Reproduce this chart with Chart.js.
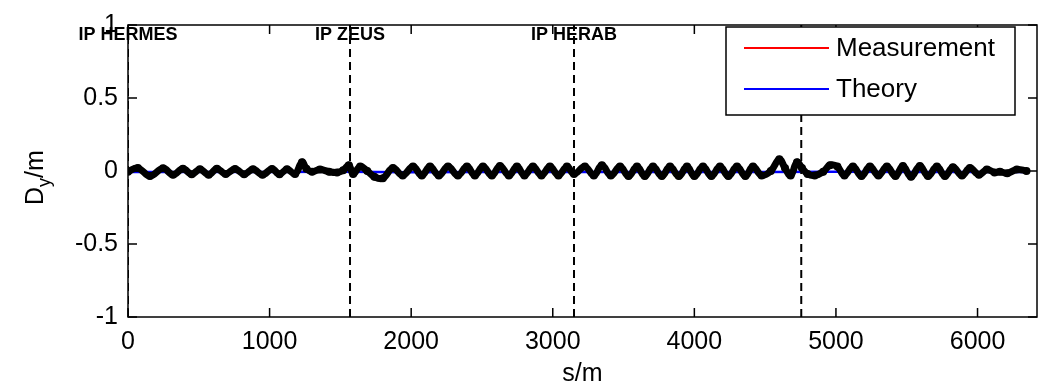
<!DOCTYPE html>
<html>
<head>
<meta charset="utf-8">
<script src="https://cdn.jsdelivr.net/npm/chart.js@4.4.0/dist/chart.umd.min.js"></script>
<style>
  body { margin: 0; background: #fff; }
  #wrap { width: 1046px; height: 389px; position: relative; }
</style>
</head>
<body>
<div id="wrap"><canvas id="dispersion"></canvas></div>
<script>
// position along the ring (m) and measured vertical dispersion (m)
const sPos = [0, 70, 155, 247, 318, 388, 450, 508, 570, 628, 690, 756, 820, 883, 950, 1017, 1070, 1123, 1180, 1229, 1260, 1300, 1356, 1420, 1476, 1520, 1560, 1590, 1640, 1690, 1740, 1800, 1871, 1940, 2013, 2075, 2133, 2195, 2260, 2330, 2394, 2450, 2507, 2570, 2627, 2690, 2747, 2800, 2860, 2920, 2980, 3040, 3100, 3150, 3227, 3290, 3347, 3410, 3475, 3535, 3595, 3650, 3708, 3770, 3828, 3890, 3948, 4000, 4061, 4120, 4181, 4240, 4301, 4360, 4414, 4475, 4540, 4600, 4640, 4680, 4725, 4760, 4800, 4850, 4910, 4958, 5010, 5060, 5120, 5180, 5240, 5300, 5360, 5420, 5473, 5530, 5593, 5650, 5713, 5770, 5826, 5890, 5946, 6010, 6066, 6120, 6158, 6210, 6278, 6346];
const measured = [-0.005, 0.02, -0.035, 0.018, -0.025, 0.015, -0.022, 0.012, -0.025, 0.015, -0.02, 0.014, -0.022, 0.012, -0.025, 0.013, -0.022, 0.012, -0.02, 0.06, 0.015, -0.005, 0.01, -0.005, -0.01, 0.005, 0.04, -0.02, 0.03, 0.0, -0.04, -0.05, 0.02, -0.03, 0.03, -0.03, 0.03, -0.03, 0.03, -0.03, 0.03, -0.03, 0.03, -0.03, 0.035, -0.03, 0.03, -0.03, 0.03, -0.03, 0.03, -0.03, 0.03, -0.02, 0.03, -0.03, 0.04, -0.03, 0.03, -0.035, 0.03, -0.035, 0.03, -0.035, 0.03, -0.035, 0.03, -0.035, 0.03, -0.035, 0.03, -0.035, 0.03, -0.035, 0.03, -0.03, 0.0, 0.08, 0.02, -0.03, 0.06, 0.02, -0.02, -0.03, -0.005, 0.04, 0.03, -0.03, 0.03, -0.035, 0.03, -0.03, 0.03, -0.035, 0.035, -0.04, 0.035, -0.035, 0.03, -0.035, 0.025, -0.03, 0.02, -0.025, 0.01, -0.01, -0.005, -0.015, 0.01, 0.0];

// model curve
const theoryS = [0, 500, 1000, 1500, 2000, 2500, 3000, 3500, 4000, 4500, 5000, 5500, 6000, 6346];
const theoryVal = [-0.006, -0.007, -0.006, -0.005, -0.008, -0.007, -0.006, -0.007, -0.006, -0.006, -0.005, -0.007, -0.006, -0.006];

// interaction points
const ipPos = [0, 1568, 3150, 4755];
const ipNames = ['IP HERMES', 'IP ZEUS', 'IP HERAB', ''];

const xTicks = [0, 1000, 2000, 3000, 4000, 5000, 6000];
const yTicks = [-1, -0.5, 0, 0.5, 1];
const seriesNames = ['Measurement', 'Theory'];

const FONT = "'Liberation Sans', Arial, sans-serif";

const frame = {
    id: 'frame',
    afterDraw(chart) {
        const ctx = chart.ctx;
        const a = chart.chartArea;
        const x = chart.scales.x, y = chart.scales.y;
        ctx.save();
        ctx.strokeStyle = '#000';
        ctx.lineWidth = 1.5;
        ctx.strokeRect(a.left, a.top, a.right - a.left, a.bottom - a.top);
        // inward ticks on all four sides
        ctx.beginPath();
        xTicks.forEach(v => {
            const px = x.getPixelForValue(v);
            ctx.moveTo(px, a.bottom); ctx.lineTo(px, a.bottom - 9);
            ctx.moveTo(px, a.top); ctx.lineTo(px, a.top + 9);
        });
        yTicks.forEach(v => {
            const py = y.getPixelForValue(v);
            ctx.moveTo(a.left, py); ctx.lineTo(a.left + 9, py);
            ctx.moveTo(a.right, py); ctx.lineTo(a.right - 9, py);
        });
        ctx.stroke();

        // IP names
        ctx.fillStyle = '#000';
        ctx.font = 'bold 18px ' + FONT;
        ctx.textAlign = 'center';
        ctx.textBaseline = 'middle';
        ipPos.forEach((p, i) => {
            if (ipNames[i]) ctx.fillText(ipNames[i], x.getPixelForValue(p), 35);
        });

        // legend
        const lx = 726, ly = 27, lw = 289, lh = 88;
        ctx.fillStyle = '#fff';
        ctx.fillRect(lx, ly, lw, lh);
        ctx.strokeStyle = '#000';
        ctx.lineWidth = 1.5;
        ctx.strokeRect(lx, ly, lw, lh);
        const legendColors = ['#ff0000', '#0000ff'];
        ctx.font = '26px ' + FONT;
        ctx.textAlign = 'left';
        seriesNames.forEach((name, i) => {
            const yy = 48 + i * 41;
            ctx.strokeStyle = legendColors[i];
            ctx.lineWidth = 2;
            ctx.beginPath(); ctx.moveTo(744, yy); ctx.lineTo(829, yy); ctx.stroke();
            ctx.fillStyle = '#000';
            ctx.fillText(name, 836, yy + 1);
        });

        // y axis title with subscript
        ctx.translate(43, 205);
        ctx.rotate(-Math.PI / 2);
        ctx.textBaseline = 'alphabetic';
        ctx.textAlign = 'left';
        ctx.font = '25px ' + FONT;
        ctx.fillText('D', 0, 0);
        let w = ctx.measureText('D').width;
        ctx.font = '18px ' + FONT;
        ctx.fillText('y', w, 7);
        w += ctx.measureText('y').width;
        ctx.font = '25px ' + FONT;
        ctx.fillText('/m', w, 0);
        ctx.restore();
    }
};

const ctx = document.getElementById('dispersion').getContext('2d');

const datasets = [];
ipPos.forEach(p => {
    datasets.push({
        data: [{x: p, y: -1}, {x: p, y: 1}],
        borderColor: '#000',
        borderWidth: 2,
        borderDash: [8, 5],
        pointRadius: 0,
        order: 0
    });
});
datasets.push({
    label: 'bpm',
    data: sPos.map((s, i) => ({x: s, y: measured[i]})),
    borderColor: '#000',
    backgroundColor: '#000',
    borderWidth: 7,
    tension: 0.4,
    pointRadius: 4,
    pointBorderWidth: 0,
    pointBackgroundColor: '#000',
    order: 1
});
datasets.push({
    label: seriesNames[0],
    data: sPos.map((s, i) => ({x: s, y: measured[i]})),
    borderColor: '#ff0000',
    borderWidth: 1.5,
    pointRadius: 0,
    tension: 0,
    order: 2
});
datasets.push({
    label: seriesNames[1],
    data: theoryS.map((s, i) => ({x: s, y: theoryVal[i]})),
    borderColor: '#0000ff',
    borderWidth: 2.5,
    pointRadius: 0,
    order: 3
});

new Chart(ctx, {
    type: 'line',
    data: { datasets: datasets },
    options: {
        responsive: true,
        maintainAspectRatio: false,
        animation: false,
        layout: { padding: { top: 17, right: 9, left: 0, bottom: 0 } },
        plugins: {
            legend: { display: false },
            tooltip: { enabled: false }
        },
        scales: {
            x: {
                type: 'linear',
                min: 0,
                max: 6420,
                afterFit: s => { s.height = 72; },
                afterBuildTicks: s => { s.ticks = xTicks.map(v => ({value: v})); },
                grid: { display: false, drawTicks: false },
                border: { display: false },
                ticks: {
                    padding: 10,
                    color: '#000',
                    font: { family: FONT, size: 25 },
                    maxRotation: 0,
                    callback: v => v
                },
                title: {
                    display: true,
                    text: 's/m',
                    color: '#000',
                    font: { family: FONT, size: 25 },
                    padding: { top: 6, bottom: 0 }
                }
            },
            y: {
                min: -1,
                max: 1,
                afterFit: s => { s.width = 128; },
                afterBuildTicks: s => { s.ticks = yTicks.map(v => ({value: v})); },
                grid: { display: false, drawTicks: false },
                border: { display: false },
                ticks: {
                    padding: 10,
                    color: '#000',
                    font: { family: FONT, size: 25 },
                    callback: v => v
                }
            }
        }
    },
    plugins: [frame]
});
</script>
</body>
</html>
